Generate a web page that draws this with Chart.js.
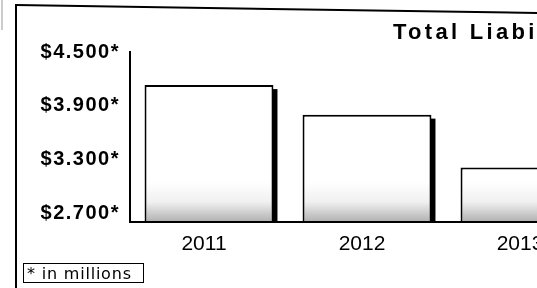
<!DOCTYPE html>
<html>
<head>
<meta charset="utf-8">
<script src="https://cdn.jsdelivr.net/npm/chart.js@4"></script>
<style>
  html, body { margin: 0; padding: 0; background: #fff; }
  #wrap { position: relative; width: 537px; height: 288px; overflow: hidden; background: #fff; }
  #c { position: absolute; left: 0; top: 0; width: 620px; height: 288px; }
  #frame { position: absolute; left: 0; top: 0; }
  .title { position: absolute; left: 393px; top: 21px; font: bold 22px 'Liberation Sans', Arial, sans-serif;
           line-height: 22px; letter-spacing: 3.3px; white-space: nowrap; color: #000; }
  .note { position: absolute; left: 23px; top: 263px; width: 121px; height: 20px; box-sizing: border-box;
          border: 1.5px solid #000; font: 16px 'DejaVu Sans', sans-serif; line-height: 16px;
          letter-spacing: 0.8px; padding: 2px 0 0 3px; white-space: nowrap; color: #000; }
</style>
</head>
<body>
<div id="wrap">
  <canvas id="c" width="620" height="288"></canvas>
  <svg id="frame" width="537" height="288">
    <line x1="2" y1="0" x2="2" y2="30" stroke="#ccc" stroke-width="2"/>
    <line x1="16" y1="5" x2="537" y2="13" stroke="#000" stroke-width="2"/>
    <line x1="16" y1="4" x2="16" y2="288" stroke="#000" stroke-width="2"/>
  </svg>
  <div class="title">Total Liabilities</div>
  <div class="note">* in millions</div>
</div>
<script>
// dados
const categories = ['2011', '2012', '2013'];
const liabilities = [4.13, 3.80, 3.21];
const yTickValues = [2.7, 3.3, 3.9, 4.5];
const yTickLabels = ['$2.700*', '$3.300*', '$3.900*', '$4.500*'];

// sombra preta do lado direito + espacamento das letras do eixo y
const barShadow = {
  id: 'barShadow',
  beforeDraw(chart) {
    chart.ctx.letterSpacing = '1.5px';
  },
  beforeDatasetsDraw(chart) {
    const ctx = chart.ctx;
    const bottom = chart.chartArea.bottom;
    ctx.letterSpacing = '0px';
    ctx.save();
    ctx.fillStyle = '#000';
    chart.getDatasetMeta(0).data.forEach(bar => {
      const p = bar.getProps(['x', 'y', 'width'], true);
      ctx.fillRect(p.x + p.width / 2 - 1, p.y + 4, 5, bottom - p.y - 4);
    });
    ctx.restore();
  }
};

function barFill(context) {
  const chart = context.chart;
  const area = chart.chartArea;
  if (!area) return '#fff';
  const g = chart.ctx.createLinearGradient(0, area.bottom - 40, 0, area.bottom);
  g.addColorStop(0, '#ffffff');
  g.addColorStop(0.5, '#f0f0f0');
  g.addColorStop(1, '#b0b0b0');
  return g;
}

const ctx = document.getElementById('c').getContext('2d');
new Chart(ctx, {
  type: 'bar',
  data: {
    labels: categories,
    datasets: [{
      data: liabilities,
      backgroundColor: barFill,
      borderColor: '#000',
      borderWidth: 2,
      borderSkipped: 'bottom',
      barPercentage: 0.816,
      categoryPercentage: 1
    }]
  },
  options: {
    responsive: false,
    devicePixelRatio: 1,
    animation: false,
    events: [],
    layout: { padding: { top: 52, right: 16, left: 0, bottom: 0 } },
    plugins: {
      legend: { display: false },
      title: { display: false },
      tooltip: { enabled: false }
    },
    scales: {
      x: {
        offset: true,
        grid: { display: false, drawTicks: false },
        border: { display: true, color: '#000', width: 2, z: 1 },
        ticks: {
          z: 1,
          color: '#000',
          padding: 10,
          labelOffset: -5,
          maxRotation: 0,
          autoSkip: false,
          font: { family: "'Liberation Sans', Arial, sans-serif", size: 21 }
        },
        afterFit(s) { s.height = 66; }
      },
      y: {
        min: 2.6,
        max: 4.5,
        grid: { display: false, drawTicks: false },
        border: { display: true, color: '#000', width: 2 },
        afterBuildTicks(s) { s.ticks = yTickValues.map(v => ({ value: v })); },
        ticks: {
          color: '#000',
          padding: 10,
          font: { family: "'Liberation Sans', Arial, sans-serif", size: 20, weight: 'bold' },
          callback: v => yTickLabels[yTickValues.indexOf(v)]
        },
        afterFit(s) { s.width = 130; }
      }
    }
  },
  plugins: [barShadow]
});
</script>
</body>
</html>
